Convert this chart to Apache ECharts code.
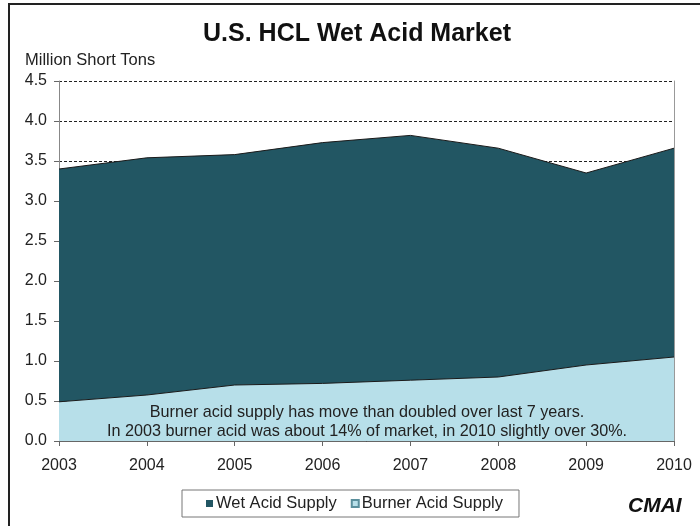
<!DOCTYPE html>
<html>
<head>
<meta charset="utf-8">
<script src="https://cdn.jsdelivr.net/npm/echarts@6/dist/echarts.min.js"></script>
<style>
  html, body { margin: 0; padding: 0; background: #fff; }
  #chart { width: 700px; height: 526px; }
</style>
</head>
<body>
<div id="chart"></div>
<script>
// 年份
const years = ['2003', '2004', '2005', '2006', '2007', '2008', '2009', '2010'];
// burner acid (bottom of the stack)
const burnerSupply = [0.49, 0.575, 0.70, 0.72, 0.76, 0.80, 0.95, 1.05];
// wet acid, stacked on top
const wetSupply = [2.91, 2.965, 2.88, 3.01, 3.06, 2.86, 2.40, 2.61];
const noteLines = [
  'Burner acid supply has move than doubled over last 7 years.',
  'In 2003 burner acid was about 14% of market, in 2010 slightly over 30%.'
];

const fontFam = '"Liberation Sans", Arial, sans-serif';
const myChart = echarts.init(document.getElementById('chart'));

const option = {
  animation: false,
  textStyle: { fontFamily: fontFam },
  title: {
    text: 'U.S. HCL Wet Acid Market',
    left: 352,
    textAlign: 'center',
    top: 17,
    textStyle: { fontSize: 25, fontWeight: 'bold', color: '#111', fontFamily: fontFam }
  },
  legend: {
    data: ['Wet Acid Supply', 'Burner Acid Supply'],
    left: 182,
    top: 490,
    padding: [5, 16, 5, 24],
    itemGap: 14,
    itemWidth: 7,
    itemHeight: 7,
    icon: 'rect',
    borderColor: '#777',
    borderWidth: 1,
    textStyle: { fontSize: 16.5, color: '#222', fontFamily: fontFam, padding: [0, 0, 0, -2] }
  },
  grid: { left: 59, right: 26, top: 81, bottom: 85 },
  xAxis: {
    type: 'category',
    data: years,
    boundaryGap: false,
    axisLine: { lineStyle: { color: '#666', width: 1 } },
    axisTick: { show: true, length: 5, lineStyle: { color: '#666' } },
    axisLabel: { fontSize: 16, color: '#222', margin: 17 }
  },
  yAxis: [
    {
      type: 'value',
      min: 0,
      max: 4.5,
      interval: 0.5,
      name: 'Million Short Tons',
      nameLocation: 'end',
      nameGap: 12,
      nameTextStyle: { fontSize: 16.5, color: '#222', align: 'left', padding: [0, 0, 0, -34] },
      axisLine: { show: true, lineStyle: { color: '#888' } },
      axisTick: { show: true, length: 5, lineStyle: { color: '#666' } },
      axisLabel: {
        fontSize: 16,
        color: '#222',
        margin: 12,
        formatter: function (v) { return v.toFixed(1); }
      },
      splitLine: { show: true, lineStyle: { color: '#222', type: [3, 2], width: 1 } }
    },
    {
      type: 'value',
      min: 0,
      max: 4.5,
      position: 'right',
      axisLine: { show: true, lineStyle: { color: '#999' } },
      axisTick: { show: false },
      axisLabel: { show: false },
      splitLine: { show: false }
    }
  ],
  series: [
    {
      name: 'Burner Acid Supply',
      type: 'line',
      stack: 'total',
      data: burnerSupply,
      symbol: 'none',
      lineStyle: { color: '#1a1a1a', width: 1 },
      itemStyle: { color: '#b7dfe9', borderColor: '#5a8f9c', borderWidth: 1 },
      areaStyle: { color: '#b7dfe9', opacity: 1 }
    },
    {
      name: 'Wet Acid Supply',
      type: 'line',
      stack: 'total',
      data: wetSupply,
      symbol: 'none',
      lineStyle: { color: '#1a1a1a', width: 1 },
      itemStyle: { color: '#225663' },
      areaStyle: { color: '#225663', opacity: 1 }
    }
  ],
  graphic: [
    // outer frame (only top and left edges show in the picture)
    {
      type: 'rect',
      shape: { x: 9, y: 4, width: 720, height: 560 },
      style: { fill: 'none', stroke: '#222', lineWidth: 2 },
      z: 100
    },
    {
      type: 'text',
      x: 367,
      y: 403,
      style: {
        text: noteLines.join('\n'),
        align: 'center',
        verticalAlign: 'top',
        font: '16.2px ' + fontFam,
        fill: '#222',
        lineHeight: 19
      },
      z: 100
    },
    {
      type: 'text',
      x: 628,
      y: 496,
      style: {
        text: 'CMAI',
        font: 'italic bold 21px ' + fontFam,
        fill: '#111'
      },
      z: 100
    }
  ]
};
option && myChart.setOption(option);
</script>
</body>
</html>
